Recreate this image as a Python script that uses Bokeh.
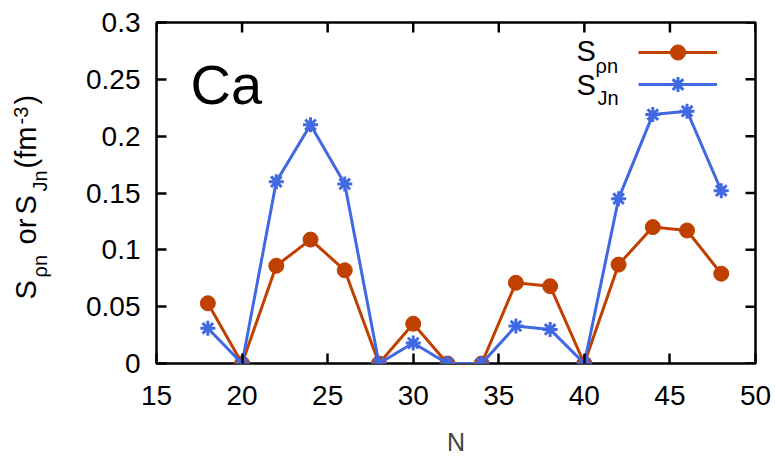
import math
from bokeh.plotting import figure
from bokeh.layouts import row
from bokeh.models import (Range1d, FixedTicker, Label, Legend, LegendItem)
from bokeh.embed import file_html
from bokeh.resources import INLINE

# ---- data ----
N = [18, 20, 22, 24, 26, 28, 30, 32, 34, 36, 38, 40, 42, 44, 46, 48]
S_rho = [0.053, 0.0, 0.086, 0.109, 0.082, 0.0, 0.035, 0.0, 0.0,
         0.071, 0.068, 0.0, 0.087, 0.120, 0.117, 0.079]
S_J = [0.031, 0.0, 0.160, 0.210, 0.158, 0.0, 0.018, 0.0, 0.0,
       0.033, 0.030, 0.0, 0.145, 0.219, 0.222, 0.152]
x_ticks = [15, 20, 25, 30, 35, 40, 45, 50]
y_ticks = [0, 0.05, 0.1, 0.15, 0.2, 0.25, 0.3]
y_tick_labels = ["0", "0.05", "0.1", "0.15", "0.2", "0.25", "0.3"]
x_min, x_max = 15, 50
y_min, y_max = 0, 0.3
element = "Ca"
x_label = "N"

RHO = "#c04000"
BLUE = "#4169e1"
FONT = "Liberation Sans"
MAIN = 29
TICK = 28
SUB = 20
BASE_FIX = 0.38   # Label draws 'alphabetic' text lower by ~0.38 em

W, H = 775, 458
LW = 56                              # width of the y-label strip
FL, FR, FT, FB = 156, 755, 22, 363   # frame edges in page pixels

# ---- strip holding the rotated y-axis label ----
# its frame spans page rows FT..FB, so data y == page y
s = figure(width=LW, height=H, x_range=Range1d(0, LW), y_range=Range1d(FB, FT),
           output_backend="svg", toolbar_location=None,
           x_axis_location=None, y_axis_location=None,
           min_border_left=0, min_border_right=0, min_border_top=FT,
           min_border_bottom=H - FB)
s.grid.visible = False
s.outline_line_color = None
s.background_fill_color = "white"
s.border_fill_color = "white"

up = math.pi / 2
for text, size, px, py in [("S", MAIN, 37, 299), ("\u03c1n", SUB, 47, 277),
                           ("or", MAIN, 37, 244), ("S", MAIN, 37, 214),
                           ("Jn", SUB, 47, 191), ("(fm", MAIN, 37, 168),
                           ("-3", SUB, 28, 124), (")", MAIN, 37, 104)]:
    s.add_layout(Label(x=px - BASE_FIX * size, y=py, text=text, angle=up,
                       text_align="left", text_baseline="alphabetic",
                       text_font=FONT, text_font_size=f"{size}px",
                       text_color="black"))

# ---- main plot ----
p = figure(width=W - LW, height=H, x_range=Range1d(x_min, x_max),
           y_range=Range1d(y_min, y_max),
           output_backend="svg", toolbar_location=None,
           min_border_left=FL - LW, min_border_right=W - FR,
           min_border_top=FT, min_border_bottom=H - FB)
p.grid.visible = False
p.background_fill_color = "white"
p.border_fill_color = "white"
p.outline_line_color = "black"
p.outline_line_width = 2.5

def style_axis(ax):
    ax.axis_line_color = None
    ax.major_tick_in = 10
    ax.major_tick_out = 0
    ax.major_tick_line_width = 2.5
    ax.major_tick_line_color = "black"
    ax.minor_tick_line_color = None
    ax.major_label_text_font = FONT
    ax.major_label_text_color = "black"
    ax.major_label_text_font_size = f"{TICK}px"

xa = p.xaxis[0]
xa.ticker = FixedTicker(ticks=x_ticks)
style_axis(xa)
xa.major_label_standoff = 22
xa.axis_label = x_label
xa.axis_label_text_font = FONT
xa.axis_label_text_font_size = "25px"
xa.axis_label_text_font_style = "normal"
xa.axis_label_standoff = 20

ya = p.yaxis[0]
ya.ticker = FixedTicker(ticks=y_ticks)
ya.major_label_overrides = {t: s_ for t, s_ in zip(y_ticks, y_tick_labels)}
style_axis(ya)
ya.major_label_standoff = 16

# mirrored inward ticks on the top and right edges (half of each dash is
# clipped away by the frame, leaving a 10 px inward tick)
p.scatter(x_ticks, [y_max] * len(x_ticks), marker="dash", size=20,
          angle=math.pi / 2, line_color="black", line_width=2.5)
p.scatter([x_max] * len(y_ticks), y_ticks, marker="dash", size=20,
          line_color="black", line_width=2.5)

# ---- data series ----
r_rl = p.line(N, S_rho, line_color=RHO, line_width=3)
r_rs = p.scatter(N, S_rho, marker="circle", size=15, fill_color=RHO,
                 line_color=RHO)
r_jl = p.line(N, S_J, line_color=BLUE, line_width=3)
r_js = p.scatter(N, S_J, marker="asterisk", size=15, line_color=BLUE,
                 line_width=3)

# ---- legend samples (line + marker), text drawn separately ----
def make_legend(renderers, cy):
    gh = 38
    leg = Legend(items=[LegendItem(label=" ", renderers=renderers)],
                 location=(638 - FL, FB - (cy + gh / 2)),
                 glyph_width=79, glyph_height=gh, padding=0, margin=0,
                 spacing=0, label_standoff=0, label_width=0, label_height=0,
                 label_text_font_size="1px", border_line_color=None,
                 background_fill_alpha=0)
    p.add_layout(leg, "center")

make_legend([r_rl, r_rs], 52)
make_legend([r_jl, r_js], 84)

def lab(text, px, py, size):
    p.add_layout(Label(x=px - FL, y=FB - py + BASE_FIX * size,
                       x_units="screen", y_units="screen",
                       text=text, text_align="left",
                       text_baseline="alphabetic", text_font=FONT,
                       text_font_size=f"{size}px", text_color="black"))

# legend texts
lab("S", 576, 62, MAIN)
lab("\u03c1n", 595, 73, SUB)
lab("S", 576, 96, MAIN)
lab("Jn", 597, 105, SUB)

# element name
lab(element, 190, 105, 56)

layout = row(s, p, spacing=0)
open("out.html", "w").write(file_html(layout, INLINE))
